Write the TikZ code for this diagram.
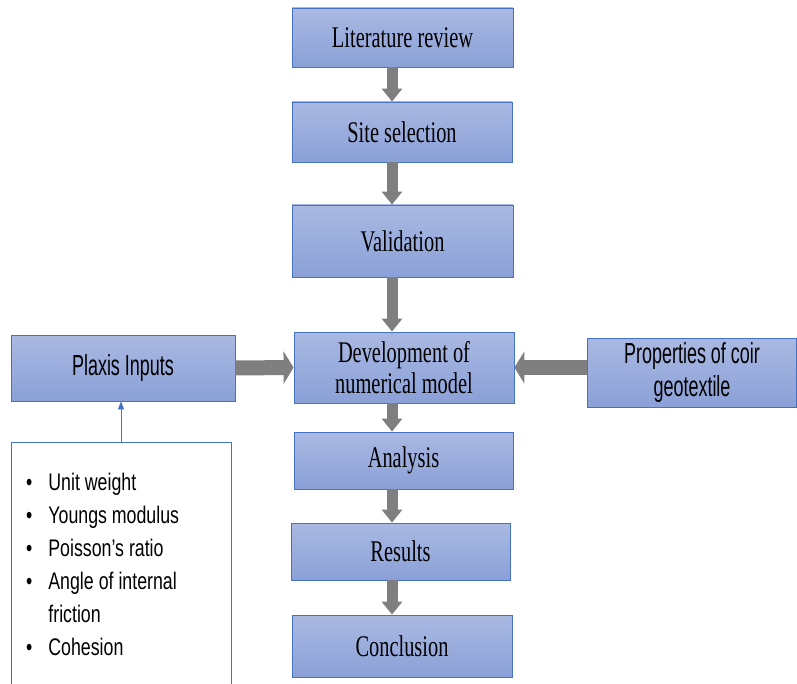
\documentclass[tikz,border=0pt]{standalone}
\usepackage{fontspec}
\usetikzlibrary{arrows.meta}
\newfontfamily\boxfont[FakeStretch=0.68]{Liberation Serif}
\newfontfamily\labfont[FakeStretch=0.62]{Liberation Sans}
\newfontfamily\listfont[FakeStretch=0.74]{Liberation Sans}
\definecolor{boxtop}{RGB}{170,185,226}
\definecolor{boxbot}{RGB}{138,160,215}
\definecolor{boxline}{RGB}{68,114,196}
\definecolor{arrgray}{RGB}{127,127,127}
\tikzset{
  stage/.style={draw=boxline, line width=.8pt, top color=boxtop, bottom color=boxbot,
    minimum width=220pt, inner sep=2pt, align=center,
    font=\boxfont\fontsize{30}{31}\selectfont},
  inputbox/.style={stage, font=\labfont\fontsize{29}{33}\selectfont},
  downarrow/.style={draw=arrgray, line width=11pt, -{Triangle[width=20pt,length=13pt]}},
  sidearrow/.style={draw=arrgray, line width=15pt, -{Triangle[width=32pt,length=10pt]}}
}
\begin{document}
\begin{tikzpicture}[x=1pt, y=-1pt]
  \useasboundingbox (0,0) rectangle (797,684);
  \coordinate (spine) at (392,0);
  \node[stage, minimum height=59pt, minimum width=221pt] (lit) at (402.5,37.5) {Literature review};
  \node[stage, minimum height=60pt] (site) at (402,132) {Site selection};
  \node[stage, minimum height=72pt, minimum width=221pt] (valid) at (402.5,241) {Validation};
  \node[stage, minimum height=71pt] (dev) at (404,367.5) {Development of\\numerical model};
  \node[stage, minimum height=57pt, minimum width=219pt] (anal) at (403.5,460.5) {Analysis};
  \node[stage, minimum height=57pt, minimum width=219pt] (res) at (400.5,551.5) {Results};
  \node[stage, minimum height=62pt] (concl) at (402,646) {Conclusion};
  \node[inputbox, minimum height=66pt, minimum width=224pt] (plaxis) at (123,368) {Plaxis Inputs};
  \node[inputbox, minimum height=69pt, minimum width=209pt] (prop) at (692,372.5) {Properties of coir\\geotextile};
  \node[draw=boxline, line width=.8pt, minimum width=220pt, minimum height=270pt, anchor=north] (listbox) at (121,442) {};
  \node[anchor=base west, inner sep=0pt, font=\listfont\fontsize{24}{33}\selectfont] (params) at (26,490)
    {\begin{tabular}[t]{@{}l@{\hspace{16pt}}l@{}}
      \textbullet & Unit weight\\
      \textbullet & Youngs modulus\\
      \textbullet & Poisson’s ratio\\
      \textbullet & Angle of internal\\
                  & friction\\
      \textbullet & Cohesion
    \end{tabular}};
  \draw[downarrow] (lit.south -| spine) -- (site.north -| spine);
  \draw[downarrow] (site.south -| spine) -- (valid.north -| spine);
  \draw[downarrow] (valid.south -| spine) -- (dev.north -| spine);
  \draw[downarrow] (dev.south -| spine) -- (anal.north -| spine);
  \draw[downarrow] (anal.south -| spine) -- (res.north -| spine);
  \draw[downarrow] (res.south -| spine) -- (concl.north -| spine);
  \draw[sidearrow] (plaxis.east) -- (dev.west);
  \draw[sidearrow] (dev.east -| prop.west) -- (dev.east);
  \draw[boxline, line width=.8pt, -{Triangle[width=6pt,length=8pt]}] (listbox.north) -- (listbox.north |- plaxis.south);
\end{tikzpicture}
\end{document}
